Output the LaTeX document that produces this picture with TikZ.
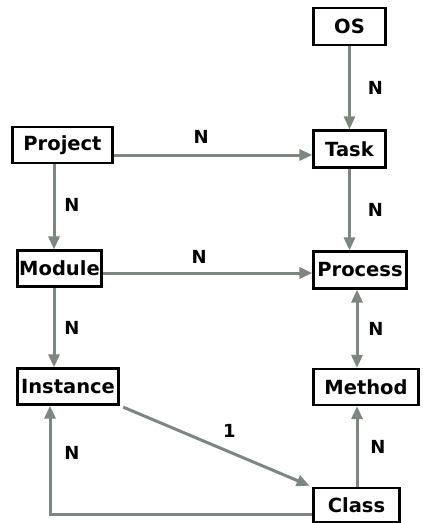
\documentclass[tikz,border=0pt]{standalone}
\usepackage{fontspec}
\setmainfont{DejaVu Sans}
\usetikzlibrary{arrows.meta}
\definecolor{linkgray}{RGB}{125,135,127}
\begin{document}
\begin{tikzpicture}[x=1pt,y=-1pt,
  entity/.style={draw=black, line width=2.2pt, fill=white, inner sep=0pt,
    font=\fontsize{19.5}{22}\selectfont\bfseries},
  link/.style={draw=linkgray, line width=3pt,
    -{Triangle[length=13pt,width=11pt]}},
  twoway/.style={link, {Triangle[length=13pt,width=11pt]}-{Triangle[length=13pt,width=11pt]}},
  lbl/.style={font=\fontsize{18}{20}\selectfont\bfseries, text=black, inner sep=0pt}]
\useasboundingbox (0,0) rectangle (423,523);

% entities
\node[entity, minimum width=72pt, minimum height=37pt] (os)       at (349.5,26.5) {OS};
\node[entity, minimum width=72pt, minimum height=37pt] (task)     at (349.5,149)  {Task};
\node[entity, minimum width=93pt, minimum height=37pt] (process)  at (360,270)    {Process};
\node[entity, minimum width=105pt, minimum height=36pt] (method)  at (366,387)    {Method};
\node[entity, minimum width=86pt, minimum height=34pt] (class)    at (356.5,505)  {Class};
\node[entity, minimum width=100pt, minimum height=36pt] (project) at (62.5,145)   {Project};
\node[entity, minimum width=84pt, minimum height=36pt] (module)   at (59.5,268.5) {Module};
\node[entity, minimum width=101pt, minimum height=36pt] (instance) at (68,386.5)  {Instance};

% guide lines for the connectors
\coordinate (colL) at (54,0);
\coordinate (colI) at (50,0);
\coordinate (colR) at (357,0);
\coordinate (rowA) at (0,155);
\coordinate (rowB) at (0,273);
\coordinate (rowC) at (0,514);

% connectors
\draw[link] (os) -- (task)
  node[lbl, pos=.5, xshift=26pt] {N};
\draw[link] (task) -- (process.north -| task)
  node[lbl, pos=.5, xshift=26pt] {N};
\draw[link] (project.east |- rowA) -- (task.west |- rowA)
  node[lbl, pos=.44, yshift=18pt] {N};
\draw[link] (module.east |- rowB) -- (process.west |- rowB)
  node[lbl, pos=.46, yshift=16pt] {N};
\draw[link] (project.south -| colL) -- (module.north -| colL)
  node[lbl, pos=.48, xshift=18pt] {N};
\draw[link] (module.south -| colL) -- (instance.north -| colL)
  node[lbl, pos=.5, xshift=18pt] {N};
\draw[twoway] (process.south -| colR) -- (method.north -| colR)
  node[lbl, pos=.5, xshift=19pt] {N};
\draw[link] (class.north -| colR) -- (method.south -| colR)
  node[lbl, pos=.5, xshift=21pt] {N};
\draw[link, shorten <=4pt, shorten >=3pt] (instance.south east) -- (class.north west)
  node[lbl, pos=.57, yshift=21pt] {1};
\draw[link] (class.west |- rowC) -| (instance.south -| colI)
  node[lbl, pos=.78, xshift=22pt] {N};
\end{tikzpicture}
\end{document}
